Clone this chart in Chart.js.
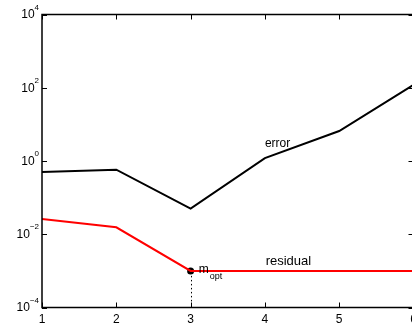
<!DOCTYPE html>
<html>
<head>
<meta charset="utf-8">
<script src="https://cdn.jsdelivr.net/npm/chart.js@4/dist/chart.umd.min.js"></script>
<style>
  html, body { margin: 0; padding: 0; background: #fff; overflow: hidden; }
  #wrap { width: 420px; height: 331px; }
</style>
</head>
<body>
<div id="wrap"><canvas id="grafico" width="420" height="331"></canvas></div>
<script>
// model order m = 1..6
const ordens = [1, 2, 3, 4, 5, 6];
const erro = [0.5, 0.58, 0.05, 1.2, 6.6, 120];
const residuo = [0.026, 0.0155, 0.001, 0.001, 0.001, 0.001];
const mOpt = 3;
const xTicks = [1, 2, 3, 4, 5, 6];
const yExpoentes = [-4, -2, 0, 2, 4];

const fonte = '"Liberation Sans", Arial, Helvetica, sans-serif';

function pontos(valores) {
    return ordens.map((x, i) => ({ x: x, y: valores[i] }));
}

// frame, inward ticks, labels and text annotations (matlab style)
const eixos = {
    id: 'eixos',
    afterDatasetsDraw(chart) {
        const ctx = chart.ctx;
        const a = chart.chartArea;
        const xs = chart.scales.x;
        const ys = chart.scales.y;
        const tam = 5;

        ctx.save();

        // dotted drop line under m_opt
        const px = xs.getPixelForValue(mOpt);
        const py = ys.getPixelForValue(residuo[ordens.indexOf(mOpt)]);
        ctx.strokeStyle = '#000';
        ctx.lineWidth = 1;
        ctx.setLineDash([1.5, 2.5]);
        ctx.beginPath();
        ctx.moveTo(Math.round(px) + 0.5, py + 5);
        ctx.lineTo(Math.round(px) + 0.5, a.bottom);
        ctx.stroke();
        ctx.setLineDash([]);

        // box
        ctx.lineWidth = 1.5;
        ctx.strokeRect(a.left, a.top, a.right - a.left, a.bottom - a.top);

        // ticks
        ctx.lineWidth = 1;
        ctx.beginPath();
        xTicks.forEach(v => {
            const x = Math.round(xs.getPixelForValue(v)) + 0.5;
            ctx.moveTo(x, a.bottom); ctx.lineTo(x, a.bottom - tam);
            ctx.moveTo(x, a.top); ctx.lineTo(x, a.top + tam);
        });
        yExpoentes.forEach(e => {
            const y = Math.round(ys.getPixelForValue(Math.pow(10, e))) + 0.5;
            ctx.moveTo(a.left, y); ctx.lineTo(a.left + tam, y);
            ctx.moveTo(a.right, y); ctx.lineTo(a.right - tam, y);
        });
        ctx.stroke();

        ctx.fillStyle = '#000';

        // x tick labels
        ctx.font = '12px ' + fonte;
        ctx.textAlign = 'center';
        ctx.textBaseline = 'middle';
        xTicks.forEach(v => {
            ctx.fillText(String(v), xs.getPixelForValue(v), a.bottom + 12);
        });

        // y tick labels 10^e
        yExpoentes.forEach(e => {
            const y = ys.getPixelForValue(Math.pow(10, e));
            const direita = a.left - 3;
            const exp = e < 0 ? '\u2212' + Math.abs(e) : String(e);
            ctx.font = '8px ' + fonte;
            ctx.textAlign = 'right';
            ctx.textBaseline = 'middle';
            const w = ctx.measureText(exp).width;
            ctx.fillText(exp, direita, y - 7);
            ctx.font = '12px ' + fonte;
            ctx.fillText('10', direita - w, y + 0.5);
        });

        // annotations
        ctx.textAlign = 'left';
        ctx.textBaseline = 'middle';
        ctx.font = '12px ' + fonte;
        ctx.fillText('error', xs.getPixelForValue(4), ys.getPixelForValue(2.9));
        ctx.font = '13px ' + fonte;
        ctx.fillText('residual', xs.getPixelForValue(4.01), ys.getPixelForValue(0.0018));
        ctx.font = '12px ' + fonte;
        const mx = xs.getPixelForValue(3.11);
        const my = ys.getPixelForValue(0.001);
        ctx.fillText('m', mx, my - 1);
        const wm = ctx.measureText('m').width;
        ctx.font = '9px ' + fonte;
        ctx.fillText('opt', mx + wm + 1, my + 6);

        ctx.restore();
    }
};

const ctx = document.getElementById('grafico').getContext('2d');
const grafico = new Chart(ctx, {
    type: 'line',
    data: {
        datasets: [
            {
                label: 'error',
                data: pontos(erro),
                borderColor: '#000',
                borderWidth: 2,
                pointRadius: 0,
                tension: 0
            },
            {
                label: 'residual',
                data: pontos(residuo),
                borderColor: '#ff0000',
                borderWidth: 2,
                pointRadius: 0,
                tension: 0
            },
            {
                label: 'm_opt',
                data: [{ x: mOpt, y: residuo[ordens.indexOf(mOpt)] }],
                showLine: false,
                pointRadius: 3.5,
                pointBackgroundColor: '#000',
                pointBorderColor: '#000',
                borderWidth: 0
            }
        ]
    },
    options: {
        responsive: false,
        animation: false,
        layout: { padding: { left: 42, top: 14.5, right: 6.5, bottom: 23.5 } },
        plugins: { legend: { display: false }, tooltip: { enabled: false } },
        scales: {
            x: { type: 'linear', min: 1, max: 6, display: false },
            y: { type: 'logarithmic', min: 1e-4, max: 1e4, display: false }
        }
    },
    plugins: [eixos]
});
</script>
</body>
</html>
